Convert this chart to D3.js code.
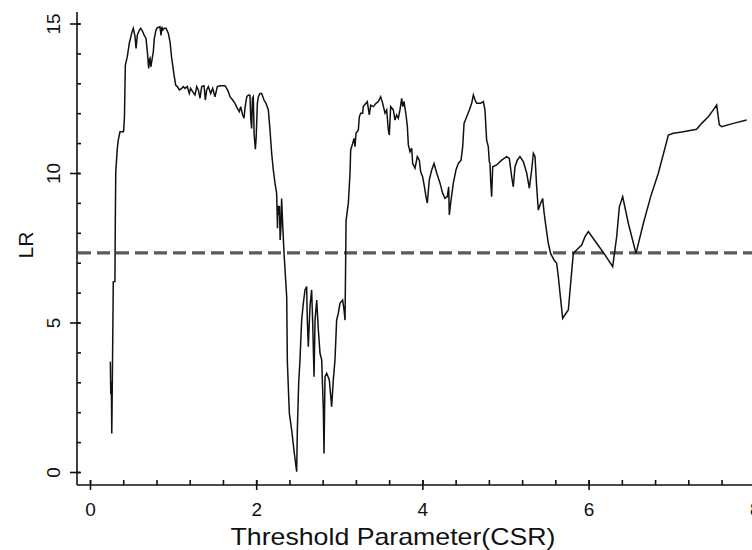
<!DOCTYPE html>
<html>
<head>
<meta charset="utf-8">
<script src="https://cdn.jsdelivr.net/npm/d3@7"></script>
<style>
  html, body { margin: 0; padding: 0; background: #fff; }
  svg { display: block; font-family: "Liberation Sans", Arial, sans-serif; }
</style>
</head>
<body>
<svg id="chart" width="752" height="550"></svg>
<script>
// ---- data ----
const csr = [
  0.245, 0.250, 0.255, 0.258, 0.262, 0.268, 0.275, 0.280, 0.300, 0.305, 0.310, 0.329, 0.340, 0.361, 0.401,
  0.405, 0.415, 0.425, 0.449, 0.473, 0.501, 0.521, 0.542, 0.554, 0.570, 0.594, 0.610, 0.634, 0.650, 0.674,
  0.690, 0.706, 0.715, 0.722, 0.732, 0.742, 0.762, 0.774, 0.794, 0.810, 0.842, 0.855, 0.865, 0.875, 0.895,
  0.915, 0.943, 0.963, 0.983, 0.995, 1.011, 1.031, 1.051, 1.075, 1.103, 1.123, 1.143, 1.171, 1.195, 1.211,
  1.235, 1.264, 1.284, 1.304, 1.324, 1.344, 1.372, 1.388, 1.404, 1.424, 1.452, 1.476, 1.504, 1.532, 1.564,
  1.625, 1.645, 1.665, 1.685, 1.717, 1.745, 1.773, 1.797, 1.813, 1.837, 1.853, 1.865, 1.886, 1.906, 1.925,
  1.935, 1.945, 1.955, 1.965, 1.975, 1.990, 2.000, 2.014, 2.026, 2.046, 2.066, 2.094, 2.118, 2.146, 2.166,
  2.186, 2.206, 2.226, 2.246, 2.250, 2.256, 2.262, 2.272, 2.280, 2.288, 2.298, 2.306, 2.318, 2.335, 2.367,
  2.375, 2.399, 2.427, 2.459, 2.487, 2.495, 2.511, 2.527, 2.547, 2.567, 2.587, 2.607, 2.615, 2.627, 2.647,
  2.667, 2.679, 2.696, 2.708, 2.728, 2.748, 2.768, 2.788, 2.808, 2.816, 2.828, 2.848, 2.880, 2.908, 2.928,
  2.948, 2.968, 2.988, 3.008, 3.040, 3.057, 3.069, 3.077, 3.081, 3.109, 3.129, 3.137, 3.161, 3.177, 3.189,
  3.201, 3.229, 3.241, 3.257, 3.281, 3.289, 3.321, 3.337, 3.361, 3.378, 3.410, 3.442, 3.470, 3.498, 3.522,
  3.550, 3.570, 3.590, 3.602, 3.618, 3.650, 3.670, 3.690, 3.710, 3.730, 3.751, 3.763, 3.779, 3.803, 3.819,
  3.831, 3.851, 3.871, 3.883, 3.911, 3.939, 3.963, 3.979, 4.003, 4.031, 4.043, 4.059, 4.083, 4.112, 4.140,
  4.172, 4.212, 4.244, 4.272, 4.300, 4.316, 4.324, 4.340, 4.372, 4.404, 4.432, 4.465, 4.485, 4.501, 4.533,
  4.565, 4.593, 4.613, 4.633, 4.653, 4.701, 4.733, 4.753, 4.773, 4.793, 4.805, 4.813, 4.821, 4.833, 4.846,
  4.894, 4.954, 5.014, 5.046, 5.074, 5.094, 5.114, 5.142, 5.174, 5.214, 5.255, 5.287, 5.315, 5.335, 5.355,
  5.375, 5.395, 5.423, 5.447, 5.463, 5.487, 5.515, 5.543, 5.584, 5.616, 5.636, 5.656, 5.688, 5.728, 5.756,
  5.784, 5.816, 5.864, 5.917, 5.957, 5.997, 6.097, 6.197, 6.290, 6.338, 6.370, 6.410, 6.478, 6.570, 6.659,
  6.747, 6.839, 6.960, 7.020, 7.140, 7.220, 7.300, 7.361, 7.441, 7.501, 7.541, 7.573, 7.601, 7.742, 7.902
];
const lr = [
  3.69, 2.60, 3.00, 2.55, 1.29, 2.80, 4.80, 6.36, 6.37, 8.50, 10.04, 10.83, 11.10, 11.38, 11.38,
  11.40, 11.90, 13.60, 13.89, 14.34, 14.67, 14.84, 14.56, 14.17, 14.62, 14.78, 14.84, 14.73, 14.62, 14.50,
  14.06, 13.50, 13.80, 13.84, 13.55, 13.72, 14.06, 14.50, 14.78, 14.86, 14.89, 14.60, 14.89, 14.78, 14.84,
  14.84, 14.67, 14.39, 13.84, 13.61, 13.28, 12.94, 12.89, 12.78, 12.83, 12.89, 12.83, 12.89, 12.66, 12.83,
  12.72, 12.61, 12.89, 12.78, 12.50, 12.89, 12.92, 12.44, 12.78, 12.89, 12.66, 12.83, 12.55, 12.89, 12.92,
  12.92, 12.83, 12.72, 12.55, 12.44, 12.33, 12.16, 12.05, 12.22, 11.94, 11.83, 12.16, 12.55, 12.61, 12.60,
  11.80, 11.49, 12.50, 12.55, 11.30, 10.80, 11.20, 12.33, 12.55, 12.66, 12.66, 12.44, 12.33, 12.11, 11.44,
  10.66, 10.10, 9.66, 9.32, 8.90, 8.15, 8.90, 8.60, 8.90, 7.76, 8.20, 9.15, 8.32, 7.31, 5.86,
  3.69, 1.96, 1.40, 0.62, 0.01, 1.40, 2.97, 3.75, 5.08, 5.64, 6.09, 6.20, 5.08, 4.19, 5.53,
  6.09, 5.08, 3.19, 5.08, 5.75, 4.75, 3.97, 3.75, 2.07, 0.62, 3.19, 3.30, 3.08, 2.18, 3.08,
  3.75, 5.08, 5.31, 5.64, 5.75, 5.42, 5.08, 7.20, 8.40, 9.00, 9.99, 10.77, 10.99, 11.16, 10.88,
  11.33, 11.44, 11.88, 12.00, 12.00, 12.22, 12.33, 12.39, 11.94, 12.27, 12.22, 12.33, 12.39, 12.55, 12.33,
  12.00, 12.11, 11.44, 11.27, 12.22, 12.11, 11.77, 11.94, 11.83, 12.11, 12.50, 12.22, 12.39, 11.94, 11.55,
  10.94, 10.71, 10.83, 10.32, 10.16, 10.55, 10.43, 10.04, 9.88, 9.43, 9.21, 8.99, 9.77, 10.10, 10.32,
  10.00, 9.66, 9.32, 9.15, 9.21, 9.54, 8.60, 8.99, 9.66, 10.10, 10.32, 10.43, 10.88, 11.66, 11.88,
  12.11, 12.33, 12.61, 12.44, 12.33, 12.33, 12.39, 12.11, 11.10, 10.88, 10.38, 10.32, 9.77, 9.21, 10.21,
  10.27, 10.43, 10.55, 10.49, 9.88, 9.54, 10.21, 10.43, 10.55, 10.38, 10.00, 9.49, 10.10, 10.66, 10.55,
  9.54, 8.76, 8.99, 9.15, 8.71, 8.20, 7.65, 7.31, 7.09, 6.98, 6.53, 5.98, 5.14, 5.31, 5.42,
  6.31, 7.31, 7.45, 7.59, 7.87, 8.04, 7.65, 7.26, 6.87, 7.87, 8.87, 9.21, 8.32, 7.31, 8.32,
  9.21, 9.99, 11.27, 11.33, 11.38, 11.42, 11.46, 11.66, 11.88, 12.11, 12.27, 11.61, 11.55, 11.66, 11.77
];
const xMajorTicks = [0, 2, 4, 6, 8];
const xMinorTicks = [0, 0.4, 0.8, 1.2, 1.6, 2, 2.4, 2.8, 3.2, 3.6, 4, 4.4, 4.8, 5.2, 5.6, 6, 6.4, 6.8, 7.2, 7.6, 8];
const yMajorTicks = [0, 5, 10, 15];
const yMinorTicks = [0, 1, 2, 3, 4, 5, 6, 7, 8, 9, 10, 11, 12, 13, 14, 15];
const threshold = 7.33;
const xTitle = "Threshold Parameter(CSR)";
const yTitle = "LR";

// ---- layout ----
const svg = d3.select("#chart");
const x = d3.scaleLinear().domain([0, 8]).range([90, 754.8]);
const y = d3.scaleLinear().domain([0, 15]).range([472, 23.5]);
const axisY = 485;   // position of x axis line
const axisX = 77;    // position of y axis line
const points = csr.map((c, i) => [c, lr[i]]);

// threshold dashed line
svg.append("line")
  .attr("x1", axisX + 1).attr("x2", 752)
  .attr("y1", y(threshold)).attr("y2", y(threshold))
  .attr("stroke", "#5a5a5a").attr("stroke-width", 3.2)
  .attr("stroke-dasharray", "13,6");

// LR curve
svg.append("path")
  .datum(points)
  .attr("fill", "none")
  .attr("stroke", "#111")
  .attr("stroke-width", 1.5)
  .attr("stroke-linejoin", "miter")
  .attr("d", d3.line().x(d => x(d[0])).y(d => y(d[1])));

// x axis: inward minor ticks
const gxMinor = svg.append("g").attr("transform", `translate(0,${axisY})`)
  .call(d3.axisBottom(x).tickValues(xMinorTicks).tickSize(-5).tickFormat(""));
gxMinor.select(".domain").remove();
// x axis: major ticks + labels
const gx = svg.append("g").attr("transform", `translate(0,${axisY})`)
  .call(d3.axisBottom(x).tickValues(xMajorTicks).tickSize(5).tickPadding(13).tickFormat(d3.format("d")));
gx.select(".domain").remove();
gx.selectAll("text").attr("font-size", 19).attr("fill", "#111").attr("font-family", "Liberation Sans, Arial, sans-serif");
gx.selectAll("line").attr("y1", -5);

// y axis: inward minor ticks
const gyMinor = svg.append("g").attr("transform", `translate(${axisX},0)`)
  .call(d3.axisLeft(y).tickValues(yMinorTicks).tickSize(-4).tickFormat(""));
gyMinor.select(".domain").remove();
// y axis: major ticks + rotated labels
const gy = svg.append("g").attr("transform", `translate(${axisX},0)`)
  .call(d3.axisLeft(y).tickValues(yMajorTicks).tickSize(7).tickFormat(d3.format("d")));
gy.select(".domain").remove();
gy.selectAll("line").attr("x1", 3);
gy.selectAll("text")
  .attr("x", null).attr("dy", null)
  .attr("font-size", 19).attr("fill", "#111")
  .attr("font-family", "Liberation Sans, Arial, sans-serif")
  .attr("text-anchor", "middle")
  .attr("transform", "translate(-17,0) rotate(-90)");

// axis lines (L shape)
svg.append("line").attr("x1", axisX).attr("x2", axisX).attr("y1", 12).attr("y2", axisY)
  .attr("stroke", "#111").attr("stroke-width", 1.6);
svg.append("line").attr("x1", axisX).attr("x2", 752).attr("y1", axisY).attr("y2", axisY)
  .attr("stroke", "#111").attr("stroke-width", 1.6);
svg.selectAll(".tick line").attr("stroke", "#111").attr("stroke-width", 1.6);

// titles
svg.append("text")
  .attr("x", 393).attr("y", 545)
  .attr("text-anchor", "middle")
  .attr("font-size", 24).attr("fill", "#111")
  .attr("textLength", 325).attr("lengthAdjust", "spacingAndGlyphs")
  .text(xTitle);
svg.append("text")
  .attr("transform", "translate(33,245) rotate(-90)")
  .attr("text-anchor", "middle")
  .attr("font-size", 21).attr("fill", "#111")
  .text(yTitle);
</script>
</body>
</html>
